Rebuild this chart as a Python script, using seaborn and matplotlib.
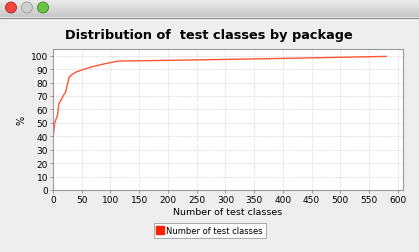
import matplotlib
matplotlib.use("Agg")
import matplotlib.pyplot as plt
import seaborn as sns
import pandas as pd
import numpy as np
from matplotlib.patches import Ellipse
from matplotlib.lines import Line2D

num_test_classes = [0, 3, 8, 10, 19, 22, 28, 33, 41, 55, 70, 90, 113, 240, 400, 580]
percent = [38, 50, 56, 64, 71, 73, 84, 86, 88, 90, 92, 94, 96, 96.8, 98, 99.5]
series_name = "Number of test classes"
title = "Distribution of  test classes by package"
x_label = "Number of test classes"
y_label = "%"
x_ticks = list(range(0, 601, 50))
y_ticks = list(range(0, 101, 10))

df = pd.DataFrame({"x": num_test_classes, "y": percent, "series": series_name})

sns.set_theme(style="white")
plt.rcParams['font.family'] = ['DejaVu Sans']
plt.rcParams['text.color'] = 'black'
plt.rcParams['xtick.color'] = 'black'
plt.rcParams['ytick.color'] = 'black'
plt.rcParams['axes.labelcolor'] = 'black'

W, H = 419, 253
fig = plt.figure(figsize=(W/100, H/100), dpi=100)
fig.patch.set_facecolor("#eeeeee")

# window title bar
grad = np.linspace(0.93, 0.78, 50).reshape(-1, 1)
bar_ax = fig.add_axes([0, 1 - 18/H, 1, 18/H])
bar_ax.imshow(grad, aspect="auto", cmap="gray", vmin=0, vmax=1, extent=[0, 1, 0, 1])
bar_ax.set_axis_off()
fig.add_artist(Line2D([0, 1], [1 - 18.5/H, 1 - 18.5/H], color="#8a8a8a", lw=0.8, transform=fig.transFigure))
for cx, col, ec in [(11, "#f0453f", "#b02a25"), (27, "#cfcfcf", "#9a9a9a"), (43, "#6cc24a", "#3f8a2a")]:
    fig.add_artist(Ellipse((cx/W, 1 - 8.5/H), 11/W, 11/H, transform=fig.transFigure,
                           facecolor=col, edgecolor=ec, lw=0.6))

ax = fig.add_axes([53/W, 1 - 191/H, 350/W, 141/H])
ax.set_facecolor("white")
sns.lineplot(data=df, x="x", y="y", hue="series", palette=["#ff5533"], ax=ax,
             linewidth=1.0, legend=False)

ax.set_xlim(0, 609)
ax.set_ylim(0, 105)
ax.set_xticks(x_ticks)
ax.set_yticks(y_ticks)
ax.tick_params(axis="both", labelsize=6.5, length=2, width=0.6, color="#888888", pad=1.5,
               direction="out", bottom=True, left=True)
ax.grid(True, color="#d4d4d4", linestyle=(0, (1.5, 1.5)), linewidth=0.6)
for s in ax.spines.values():
    s.set_color("#999999")
    s.set_linewidth(0.8)

ax.set_xlabel(x_label, fontsize=6.8, labelpad=2)
ax.set_ylabel(y_label, fontsize=7, labelpad=3)
fig.text(209/W, 1 - 36/H, title, ha="center", va="center", fontsize=9.3, fontweight="bold")

handle = Line2D([], [], marker="s", color="none", markerfacecolor="#ff2200",
                markeredgecolor="#ff2200", markersize=5.5)
leg = fig.legend([handle], [series_name], loc="center", bbox_to_anchor=(210/W, 1 - 231.5/H),
                 fontsize=6, frameon=True, fancybox=False, handlelength=0.8, handletextpad=0.3,
                 borderpad=0.35, borderaxespad=0)
leg.get_frame().set_edgecolor("#888888")
leg.get_frame().set_linewidth(0.6)
leg.get_frame().set_facecolor("white")

fig.savefig("out.png", dpi=100, facecolor=fig.get_facecolor())
